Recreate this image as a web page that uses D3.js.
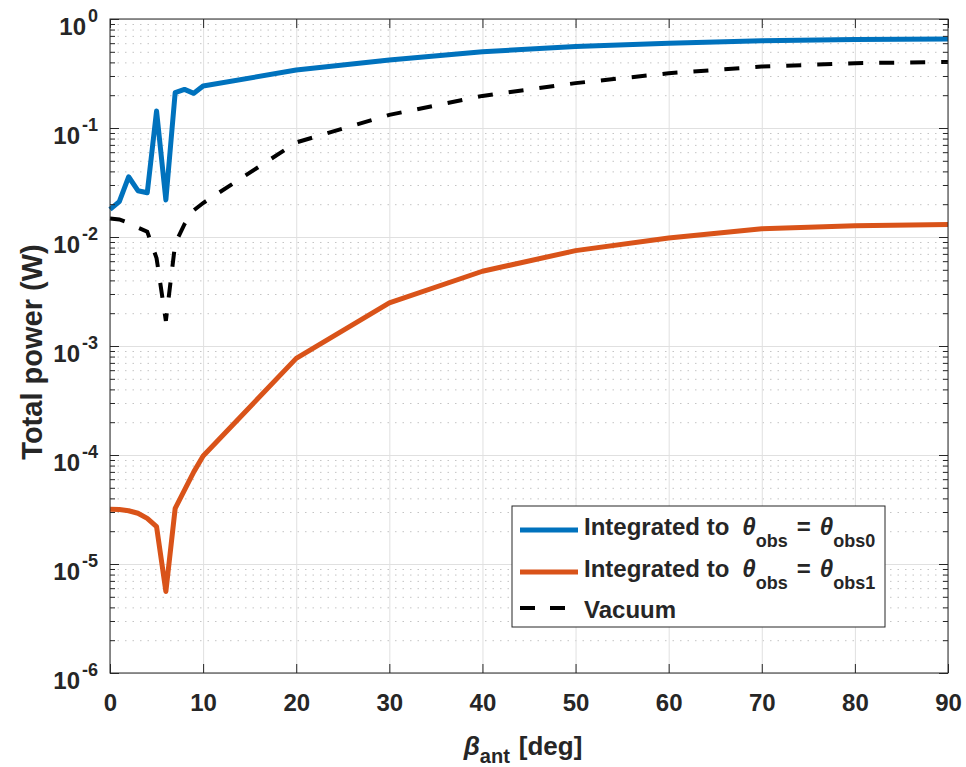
<!DOCTYPE html>
<html>
<head>
<meta charset="utf-8">
<title>Total power</title>
<script src="https://cdn.jsdelivr.net/npm/d3@7"></script>
<style>
    body {
        margin: 0;
        padding: 0;
        background-color: #ffffff;
    }
    text {
        font-family: "Liberation Sans", Arial, sans-serif;
        font-weight: bold;
        fill: #262626;
    }
    .domain {
        display: none;
    }
</style>
</head>
<body>
<div id="chart"></div>
<script>
    // beta_ant in degrees
    var betaDeg = [0, 1, 2, 3, 4, 5, 6, 7, 8, 9, 10, 20, 30, 40, 50, 60, 70, 80, 90];
    // total power (W)
    var powerObs0 = [0.0179, 0.0211, 0.0357, 0.0266, 0.0255, 0.143, 0.0219, 0.211, 0.226, 0.208,
        0.243, 0.34, 0.42, 0.50, 0.56, 0.60, 0.63, 0.65, 0.656];
    var powerObs1 = [3.18e-5, 3.16e-5, 3.08e-5, 2.92e-5, 2.62e-5, 2.2e-5, 5.6e-6, 3.24e-5, 4.77e-5, 7.0e-5,
        9.8e-5, 7.7e-4, 0.00249, 0.00485, 0.0075, 0.0098, 0.0119, 0.0127, 0.013];
    var powerVacuum = [0.0148, 0.0145, 0.0135, 0.0122, 0.0112, 0.0064, 0.0017, 0.0087, 0.0131, 0.0176,
        0.0205, 0.0737, 0.132, 0.197, 0.258, 0.318, 0.366, 0.393, 0.404];

    var xTicks = [0, 10, 20, 30, 40, 50, 60, 70, 80, 90];
    var legendLabels = ["obs0", "obs1", "Vacuum"];

    var margin = { top: 19, right: 18, bottom: 94, left: 110 };
    var width = 966 - margin.left - margin.right;
    var height = 767 - margin.top - margin.bottom;

    var root = d3.select("#chart")
        .append("svg")
        .attr("width", 966)
        .attr("height", 767);

    var svg = root.append("g")
        .attr("transform", "translate(" + margin.left + "," + margin.top + ")");

    var x = d3.scaleLinear().domain([0, 90]).range([0, width]);
    var y = d3.scaleLog().domain([1e-6, 1]).range([height, 0]);

    var allY = y.ticks();
    var decades = allY.filter(function (d) { return Math.abs(Math.log10(d) - Math.round(Math.log10(d))) < 1e-9; });
    var minors = allY.filter(function (d) { return decades.indexOf(d) < 0; });

    // grid
    svg.append("g")
        .call(d3.axisLeft(y).tickValues(minors).tickSize(-width).tickFormat(""))
        .selectAll("line")
        .attr("stroke", "#c4c4c4")
        .attr("stroke-dasharray", "1.5,6");

    svg.append("g")
        .call(d3.axisLeft(y).tickValues(decades).tickSize(-width).tickFormat(""))
        .selectAll("line")
        .attr("stroke", "#e0e0e0");

    svg.append("g")
        .attr("transform", "translate(0," + height + ")")
        .call(d3.axisBottom(x).tickValues(xTicks).tickSize(-height).tickFormat(""))
        .selectAll("line")
        .attr("stroke", "#e0e0e0");

    // lines
    var line = function (vals) {
        return d3.line()
            .x(function (d, i) { return x(betaDeg[i]); })
            .y(function (d) { return y(d); })(vals);
    };

    svg.append("path")
        .attr("d", line(powerObs0))
        .attr("fill", "none")
        .attr("stroke", "#0072BD")
        .attr("stroke-width", 5)
        .attr("stroke-linejoin", "round");

    svg.append("path")
        .attr("d", line(powerObs1))
        .attr("fill", "none")
        .attr("stroke", "#D95319")
        .attr("stroke-width", 5)
        .attr("stroke-linejoin", "round");

    svg.append("path")
        .attr("d", line(powerVacuum))
        .attr("fill", "none")
        .attr("stroke", "#000000")
        .attr("stroke-width", 4)
        .attr("stroke-dasharray", "15,16");

    // axes (ticks inward, box on)
    var xAxis = svg.append("g")
        .attr("transform", "translate(0," + height + ")")
        .attr("color", "#262626")
        .call(d3.axisBottom(x).tickValues(xTicks).tickSize(-9).tickPadding(21));
    xAxis.selectAll("text").style("font-size", "24px");

    svg.append("g")
        .attr("color", "#262626")
        .call(d3.axisTop(x).tickValues(xTicks).tickSize(-9).tickFormat(""));

    var yAxis = svg.append("g")
        .attr("color", "#262626")
        .call(d3.axisLeft(y).tickValues(decades).tickSize(-9).tickPadding(12).tickFormat(""));

    yAxis.selectAll(".tick text")
        .attr("dy", null)
        .attr("y", 15)
        .style("font-size", "24px")
        .each(function (d) {
            var t = d3.select(this);
            t.append("tspan").text("10");
            t.append("tspan")
                .attr("dx", 2)
                .attr("dy", -13)
                .attr("font-size", 18)
                .text(Math.round(Math.log10(d)));
        });

    svg.append("g")
        .attr("color", "#262626")
        .call(d3.axisLeft(y).tickValues(minors).tickSize(-5).tickFormat(""));

    svg.append("g")
        .attr("transform", "translate(" + width + ",0)")
        .attr("color", "#262626")
        .call(d3.axisRight(y).tickValues(decades).tickSize(-9).tickFormat(""));

    svg.append("g")
        .attr("transform", "translate(" + width + ",0)")
        .attr("color", "#262626")
        .call(d3.axisRight(y).tickValues(minors).tickSize(-5).tickFormat(""));

    svg.append("rect")
        .attr("width", width)
        .attr("height", height)
        .attr("fill", "none")
        .attr("stroke", "#262626")
        .attr("stroke-width", 1);

    // axis labels
    var xl = svg.append("text")
        .attr("x", width / 2 - 6)
        .attr("y", height + 82)
        .attr("text-anchor", "middle")
        .style("font-size", "26px");
    xl.append("tspan").attr("font-style", "italic").text("β");
    xl.append("tspan").attr("dy", 8).attr("font-size", 20).text("ant");
    xl.append("tspan").attr("dx", 9).attr("dy", -8).text("[deg]");

    svg.append("text")
        .attr("transform", "translate(" + (-68) + "," + (height / 2 + 6) + ") rotate(-90)")
        .attr("text-anchor", "middle")
        .style("font-size", "29px")
        .text("Total power (W)");

    // legend
    var legend = root.append("g").attr("transform", "translate(512,506)");
    legend.append("rect")
        .attr("width", 373)
        .attr("height", 121)
        .attr("fill", "#ffffff")
        .attr("stroke", "#262626")
        .attr("stroke-width", 1);

    var rowY = [24, 66, 102];
    var rowColor = ["#0072BD", "#D95319", "#000000"];

    legendLabels.forEach(function (lab, i) {
        legend.append("line")
            .attr("x1", 8).attr("x2", 66)
            .attr("y1", rowY[i]).attr("y2", rowY[i])
            .attr("stroke", rowColor[i])
            .attr("stroke-width", i === 2 ? 4 : 5)
            .attr("stroke-dasharray", i === 2 ? "15,15" : null);

        var t = legend.append("text")
            .attr("x", 72)
            .attr("y", i === 2 ? rowY[i] + 10 : rowY[i] + 5)
            .style("font-size", "24px");
        if (i === 2) {
            t.text(lab);
        } else {
            t.append("tspan").text("Integrated to");
            t.append("tspan").attr("dx", 13).attr("font-style", "italic").text("θ");
            t.append("tspan").attr("dy", 12).attr("font-size", 18).text("obs");
            t.append("tspan").attr("dx", 9).attr("dy", -12).text("=");
            t.append("tspan").attr("dx", 9).attr("font-style", "italic").text("θ");
            t.append("tspan").attr("dy", 12).attr("font-size", 18).text(lab);
        }
    });
</script>
</body>
</html>
